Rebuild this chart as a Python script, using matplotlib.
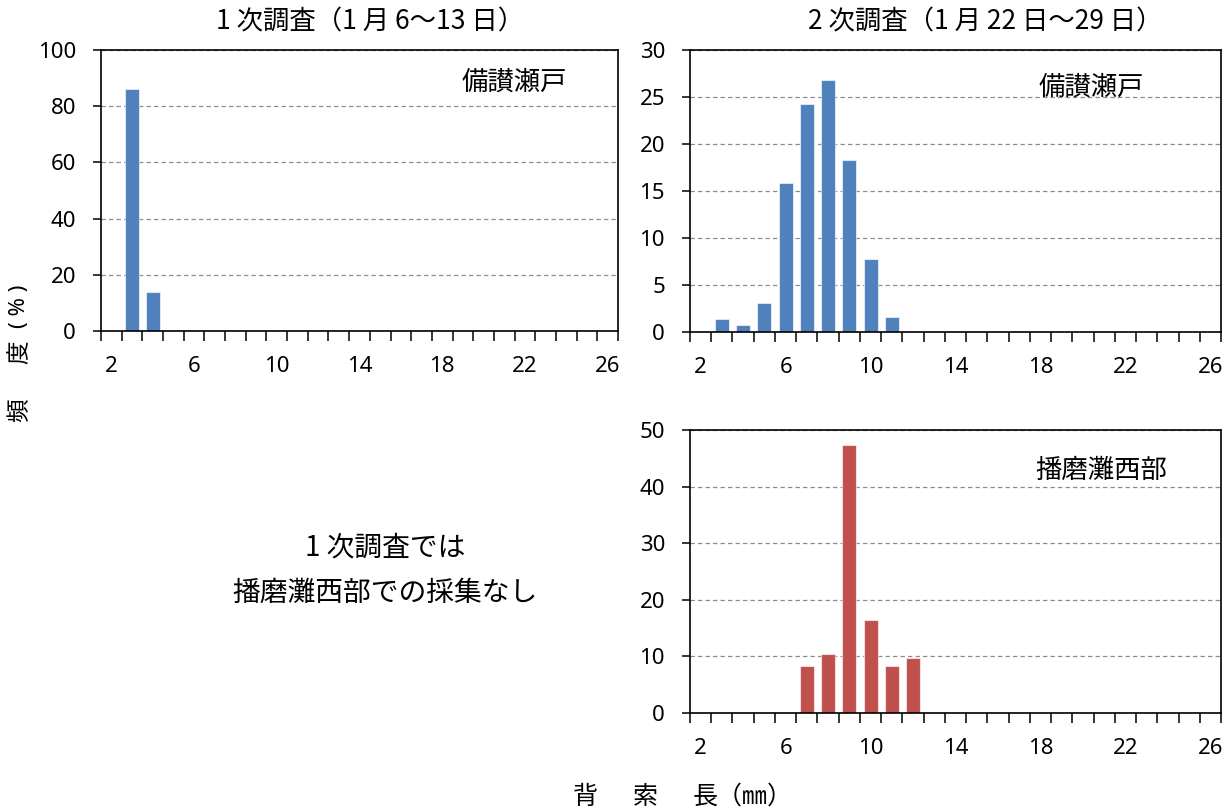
import matplotlib
matplotlib.use('Agg')
import matplotlib.pyplot as plt
from matplotlib.ticker import FixedLocator

# ---- data ----
categories = [2, 3, 4, 5, 6, 7, 8, 9, 10, 11, 12, 13, 14, 15, 16, 17, 18, 19, 20, 21, 22, 23, 24, 25, 26]
tick_labels = [2, 6, 10, 14, 18, 22, 26]
bisan_1st = [0, 86.2, 13.8, 0, 0, 0, 0, 0, 0, 0, 0, 0, 0, 0, 0, 0, 0, 0, 0, 0, 0, 0, 0, 0, 0]
bisan_2nd = [0, 1.4, 0.7, 3.1, 15.8, 24.3, 26.8, 18.3, 7.8, 1.6, 0, 0, 0, 0, 0, 0, 0, 0, 0, 0, 0, 0, 0, 0, 0]
harima_2nd = [0, 0, 0, 0, 0, 8.3, 10.4, 47.3, 16.5, 8.3, 9.7, 0, 0, 0, 0, 0, 0, 0, 0, 0, 0, 0, 0, 0, 0]

title_1 = "1 次調査（1 月 6～13 日）"
title_2 = "2 次調査（1 月 22 日～29 日）"
region_bisan = "備讃瀬戸"
region_harima = "播磨灘西部"
note_lines = ["1 次調査では", "播磨灘西部での採集なし"]
ylabel_parts = ["頻", "度", "( % )"]
xlabel_parts = ["背", "索", "長（㎜）"]

BLUE = "#4F81BD"
RED = "#C0504D"
CJK = ['Noto Sans CJK JP', 'DejaVu Sans']
NUM = ['Noto Sans', 'DejaVu Sans']

W, H = 1231, 811
fig = plt.figure(figsize=(W / 100, H / 100), dpi=100)


def rect(l, r, t, b):
    return [l / W, 1 - b / H, (r - l) / W, (b - t) / H]


def px(x, y):
    return x / W, 1 - y / H


def make_panel(r, values, color, ymax, ystep, label, label_xy):
    ax = fig.add_axes(r)
    ax.bar(categories, values, width=0.66, color=color,
           edgecolor=(1, 1, 1, 0.6), linewidth=0.8, zorder=3)
    ax.set_xlim(categories[0] - 0.5, categories[-1] + 0.5)
    ax.set_ylim(0, ymax)
    yt = list(range(0, ymax + 1, ystep))
    ax.set_yticks(yt)
    ax.set_yticklabels([str(v) for v in yt], family=NUM, fontsize=16)
    ax.xaxis.set_major_locator(FixedLocator(tick_labels))
    ax.set_xticklabels([str(v) for v in tick_labels], family=NUM, fontsize=16)
    ax.xaxis.set_minor_locator(FixedLocator([c - 0.5 for c in categories] + [categories[-1] + 0.5]))
    ax.tick_params(axis='x', which='major', length=0, pad=18)
    ax.tick_params(axis='x', which='minor', length=7, width=1.1, direction='out')
    ax.tick_params(axis='y', which='major', length=6, width=1.1, direction='out', pad=12)
    ax.yaxis.grid(True, linestyle=(0, (3.5, 2.5)), color='#8c8c8c', linewidth=0.9, zorder=1)
    ax.set_axisbelow(True)
    for s in ax.spines.values():
        s.set_linewidth(1.2)
        s.set_color('black')
        s.set_zorder(5)
    fig.text(*px(*label_xy), label, family=CJK, fontsize=19, ha='center', va='center')
    return ax


make_panel(rect(101, 618, 50, 331), bisan_1st, BLUE, 100, 20, region_bisan, (514, 82))
make_panel(rect(690, 1221, 50, 332), bisan_2nd, BLUE, 30, 5, region_bisan, (1091, 87))
make_panel(rect(690, 1221, 430, 713), harima_2nd, RED, 50, 10, region_harima, (1101, 470))

fig.text(*px(370, 22), title_1, family=CJK, fontsize=19, ha='center', va='center')
fig.text(*px(985, 22), title_2, family=CJK, fontsize=19, ha='center', va='center')

fig.text(*px(385, 548), note_lines[0], family=CJK, fontsize=20, ha='center', va='center')
fig.text(*px(385, 593), note_lines[1], family=CJK, fontsize=20, ha='center', va='center')

# y label (rotated, built from parts with wide spacing)
fig.text(*px(20, 410), ylabel_parts[0], family=CJK, fontsize=17, ha='center', va='center', rotation=90)
fig.text(*px(20, 352), ylabel_parts[1], family=CJK, fontsize=17, ha='center', va='center', rotation=90)
fig.text(*px(20, 306), ylabel_parts[2], family=NUM, fontsize=16, ha='center', va='center', rotation=90)

# x label
fig.text(*px(585, 797), xlabel_parts[0], family=CJK, fontsize=18, ha='center', va='center')
fig.text(*px(645, 797), xlabel_parts[1], family=CJK, fontsize=18, ha='center', va='center')
fig.text(*px(693, 797), xlabel_parts[2], family=CJK, fontsize=18, ha='left', va='center')

fig.savefig('out.png', dpi=100)
